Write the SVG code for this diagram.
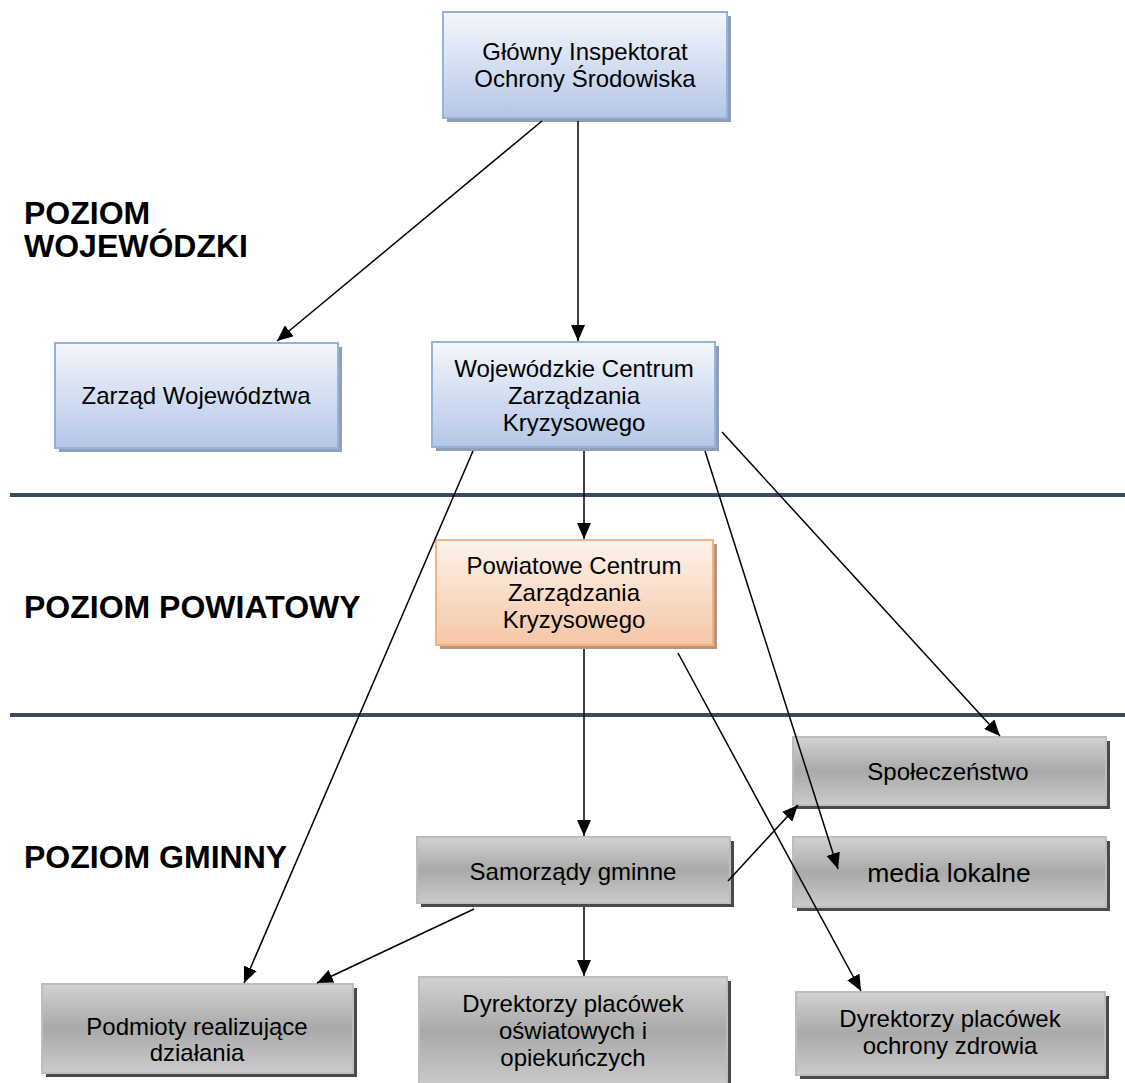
<svg xmlns="http://www.w3.org/2000/svg" width="1125" height="1083" viewBox="0 0 1125 1083">
<defs>
<linearGradient id="gBlue" x1="0" y1="0" x2="0" y2="1"><stop offset="0" stop-color="#f4f7fc"/><stop offset="1" stop-color="#b4c6e7"/></linearGradient>
<linearGradient id="gOrange" x1="0" y1="0" x2="0" y2="1"><stop offset="0" stop-color="#fdf3ec"/><stop offset="1" stop-color="#f5c6a5"/></linearGradient>
<linearGradient id="gGrey" x1="0" y1="0" x2="0" y2="1"><stop offset="0" stop-color="#d2d2d2"/><stop offset="0.5" stop-color="#a9a9a9"/><stop offset="1" stop-color="#cbcbcb"/></linearGradient>
<marker id="arrL" viewBox="0 0 16 14" refX="16" refY="7" markerWidth="16" markerHeight="14" markerUnits="userSpaceOnUse" orient="auto"><path d="M0,0 L16,7 L0,14 z" fill="#000"/></marker>
</defs>
<style>
.t{font-family:"Liberation Sans",Arial,sans-serif;font-size:24px;fill:#000;text-anchor:middle}
.h{font-family:"Liberation Sans",Arial,sans-serif;font-size:32px;font-weight:bold;fill:#000}
.b{fill:url(#gBlue);stroke:#95b3d7;stroke-width:2}
.bs{fill:#8f9fbb}
.o{fill:url(#gOrange);stroke:#f4b183;stroke-width:2}
.os{fill:#b8967f}
.g{fill:url(#gGrey);stroke:#bdbdbd;stroke-width:2}
.gs{fill:#4a4a4a}
.c{stroke:#000;stroke-width:1.5;fill:none;marker-end:url(#arrL)}
.sep{stroke:#3b4a5c;stroke-width:4}
</style>
<rect width="1125" height="1083" fill="#fff"/>
<g id="separators">
<line class="sep" x1="10" y1="495" x2="1125" y2="495"/>
<line class="sep" x1="10" y1="715" x2="1125" y2="715"/>
</g>
<g id="labels">
<text class="h" x="24" y="224">POZIOM</text>
<text class="h" x="24" y="257">WOJEWÓDZKI</text>
<text class="h" x="24" y="618">POZIOM POWIATOWY</text>
<text class="h" x="24" y="868">POZIOM GMINNY</text>
</g>
<g id="n-gios">
<rect class="bs" x="447" y="16" width="284" height="106"/>
<rect class="b" x="443" y="12" width="284" height="106"/>
<text class="t" x="585" y="60">Główny Inspektorat</text>
<text class="t" x="585" y="87">Ochrony Środowiska</text>
</g>
<g id="n-zarzad">
<rect class="bs" x="59" y="347" width="283" height="105"/>
<rect class="b" x="55" y="343" width="283" height="105"/>
<text class="t" x="196" y="404">Zarząd Województwa</text>
</g>
<g id="n-wczk">
<rect class="bs" x="436" y="346" width="283" height="105"/>
<rect class="b" x="432" y="342" width="283" height="105"/>
<text class="t" x="574" y="377">Wojewódzkie Centrum</text>
<text class="t" x="574" y="404">Zarządzania</text>
<text class="t" x="574" y="431">Kryzysowego</text>
</g>
<g id="n-pczk">
<rect class="os" x="440" y="544" width="277" height="105"/>
<rect class="o" x="436" y="540" width="277" height="105"/>
<text class="t" x="574" y="574">Powiatowe Centrum</text>
<text class="t" x="574" y="601">Zarządzania</text>
<text class="t" x="574" y="628">Kryzysowego</text>
</g>
<g id="n-spol">
<rect class="gs" x="797" y="741" width="313" height="68"/>
<rect class="g" x="793" y="737" width="313" height="68"/>
<text class="t" x="948" y="780">Społeczeństwo</text>
</g>
<g id="n-media">
<rect class="gs" x="797" y="841" width="313" height="70"/>
<rect class="g" x="793" y="837" width="313" height="70"/>
<text class="t" x="949" y="882" style="font-size:26.5px">media lokalne</text>
</g>
<g id="n-samorzady">
<rect class="gs" x="421" y="841" width="313" height="66"/>
<rect class="g" x="417" y="837" width="313" height="66"/>
<text class="t" x="573" y="880">Samorządy gminne</text>
</g>
<g id="n-podmioty">
<rect class="gs" x="46" y="988" width="311" height="89"/>
<rect class="g" x="42" y="984" width="311" height="89"/>
<text class="t" x="197" y="1035">Podmioty realizujące</text>
<text class="t" x="197" y="1061">działania</text>
</g>
<g id="n-oswiat">
<rect class="gs" x="423" y="981" width="308" height="110"/>
<rect class="g" x="419" y="977" width="308" height="110"/>
<text class="t" x="573" y="1012">Dyrektorzy placówek</text>
<text class="t" x="573" y="1039">oświatowych i</text>
<text class="t" x="573" y="1066">opiekuńczych</text>
</g>
<g id="n-zdrowia">
<rect class="gs" x="800" y="996" width="309" height="83"/>
<rect class="g" x="796" y="992" width="309" height="83"/>
<text class="t" x="950" y="1027">Dyrektorzy placówek</text>
<text class="t" x="950" y="1054">ochrony zdrowia</text>
</g>
<g id="connectors">
<line class="c" x1="542" y1="121" x2="277" y2="341"/>
<line class="c" x1="578" y1="121" x2="578" y2="341"/>
<line class="c" x1="473" y1="451" x2="244" y2="983"/>
<line class="c" x1="584" y1="451" x2="584" y2="539"/>
<line class="c" x1="705" y1="451" x2="838" y2="869"/>
<line class="c" x1="722" y1="432" x2="1000" y2="736"/>
<line class="c" x1="584" y1="649" x2="584" y2="836"/>
<line class="c" x1="678" y1="653" x2="861" y2="991"/>
<line class="c" x1="728" y1="881" x2="798" y2="805"/>
<line class="c" x1="474" y1="909" x2="317" y2="983"/>
<line class="c" x1="584" y1="907" x2="584" y2="976"/>
</g>
</svg>
